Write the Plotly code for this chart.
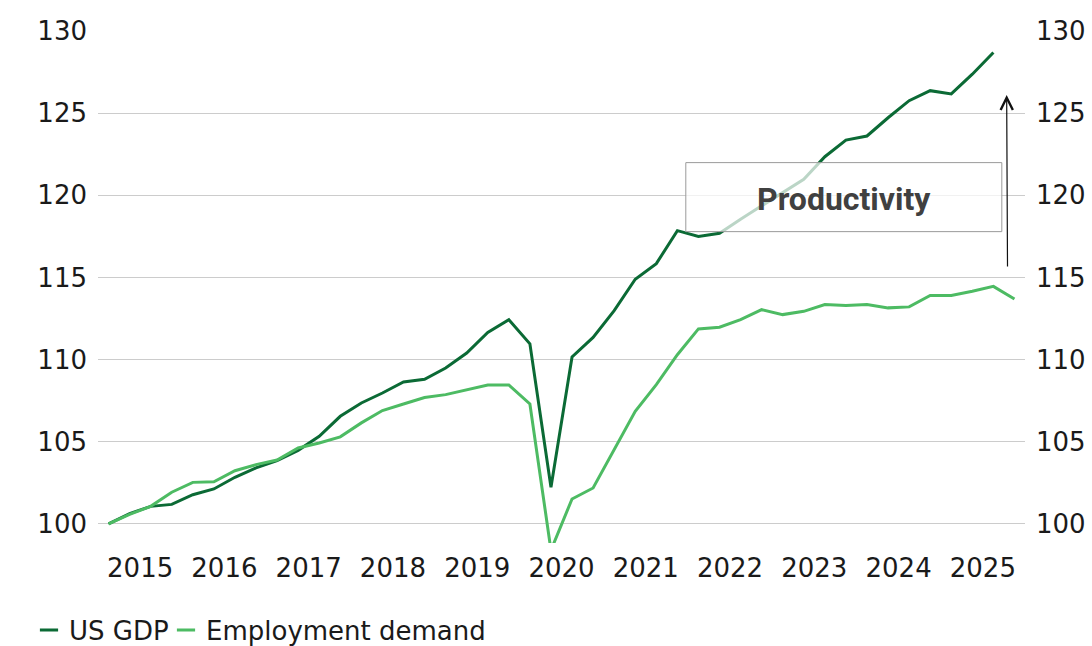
import plotly.graph_objects as go

# Quarterly index values, 2015Q1 = 100
quarters = [f"{y}Q{q}" for y in range(2015, 2026) for q in range(1, 5)]
years = [str(y) for y in range(2015, 2026)]

us_gdp = [
    100.00, 100.63, 101.07, 101.19, 101.78, 102.13, 102.84, 103.41,
    103.85, 104.48, 105.33, 106.55, 107.36, 107.97, 108.64, 108.80,
    109.49, 110.40, 111.66, 112.43, 110.96, 102.23, 110.16, 111.35,
    112.98, 114.89, 115.84, 117.85, 117.50, 117.69, 118.55, 119.35,
    120.17, 120.98, 122.35, 123.36, 123.61, 124.72, 125.76, 126.37,
    126.17, 127.37, 128.69,
]
employment_demand = [
    100.00, 100.58, 101.07, 101.93, 102.53, 102.57, 103.24, 103.61,
    103.89, 104.62, 104.93, 105.30, 106.15, 106.90, 107.30, 107.69,
    107.87, 108.16, 108.46, 108.46, 107.30, 98.40, 101.52, 102.19,
    104.50, 106.85, 108.48, 110.30, 111.87, 111.97, 112.43, 113.04,
    112.74, 112.94, 113.35, 113.29, 113.35, 113.15, 113.21, 113.91,
    113.91, 114.16, 114.46, 113.69,
]
y_ticks = [100, 105, 110, 115, 120, 125, 130]

GDP_COLOR = "#0b6a35"
EMP_COLOR = "#4dbb63"
FONT = "DejaVu Sans"
TEXT_COLOR = "#1a1a1a"

pos = list(range(len(quarters)))
year_mid = [4 * i + 1.5 for i in range(len(years))]
y_range = [98.84, 130.0]

fig = go.Figure()
fig.add_trace(go.Scatter(x=pos[:len(us_gdp)], y=us_gdp, mode="lines",
                         line=dict(color=GDP_COLOR, width=3),
                         name="US GDP", showlegend=False,
                         customdata=quarters[:len(us_gdp)],
                         hovertemplate="%{customdata}: %{y:.1f}<extra>US GDP</extra>"))
fig.add_trace(go.Scatter(x=pos[:len(employment_demand)], y=employment_demand, mode="lines",
                         line=dict(color=EMP_COLOR, width=3),
                         name="Employment demand", showlegend=False,
                         customdata=quarters[:len(employment_demand)],
                         hovertemplate="%{customdata}: %{y:.1f}<extra>Employment demand</extra>"))

# Legend entries drawn as short dashes, one legend box per series
for name, color, leg in [("US GDP", GDP_COLOR, "legend"),
                         ("Employment demand", EMP_COLOR, "legend2")]:
    fig.add_trace(go.Scatter(x=[None], y=[None], mode="markers", name=name, legend=leg,
                             marker=dict(symbol="line-ew-open", size=13, color=color,
                                         line=dict(color=color, width=3))))

# Mirror axis on the right
fig.add_trace(go.Scatter(x=[None], y=[None], yaxis="y2", showlegend=False,
                         hoverinfo="skip"))

# "Productivity" label box and gap arrow
fig.add_shape(type="rect", xref="x", yref="y", x0=27.4, x1=42.4, y0=117.79, y1=121.99,
              fillcolor="rgba(255,255,255,0.72)", line=dict(color="#9a9a9a", width=1),
              layer="above")
fig.add_annotation(x=34.9, y=119.78, xref="x", yref="y", text="<b>Productivity</b>",
                   showarrow=False, font=dict(family="Roboto", size=32, color="#404040"))
fig.add_annotation(x=42.63, y=126.1, xref="x", yref="y", ax=42.67, ay=115.57,
                   axref="x", ayref="y", text="", showarrow=True,
                   arrowhead=5, arrowsize=2, arrowwidth=1.2, arrowcolor="#111111")

legend_common = dict(orientation="h", xref="container", yref="container",
                     y=1 - 630 / 646, xanchor="left", yanchor="middle",
                     font=dict(family=FONT, size=26, color=TEXT_COLOR),
                     itemwidth=30, bgcolor="rgba(0,0,0,0)")

fig.update_layout(
    width=1092, height=646,
    margin=dict(l=98.3, r=67, t=31, b=102.7, autoexpand=False),
    paper_bgcolor="white", plot_bgcolor="white",
    font=dict(family=FONT, size=26, color=TEXT_COLOR),
    showlegend=True,
    legend=dict(x=29 / 1092, **legend_common),
    legend2=dict(x=166 / 1092, **legend_common),
    xaxis=dict(range=[-0.5, len(quarters) - 0.5], tickvals=year_mid, ticktext=years,
               showgrid=False, zeroline=False, showline=False, ticks="",
               ticklabelstandoff=7, automargin=False),
    yaxis=dict(range=y_range, tickvals=y_ticks, showgrid=True, gridcolor="#cccccc",
               gridwidth=1.2, zeroline=False, showline=False, ticks="",
               ticklabelstandoff=10, automargin=False),
    yaxis2=dict(range=y_range, tickvals=y_ticks, overlaying="y", side="right",
                showgrid=False, zeroline=False, showline=False, ticks="",
                ticklabelstandoff=10, automargin=False),
)

fig.write_html("out.html")
